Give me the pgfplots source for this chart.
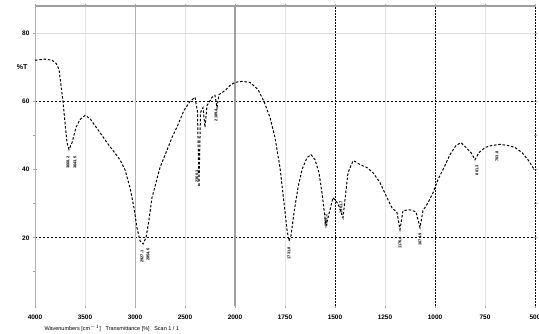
\documentclass[border=0pt]{standalone}
\usepackage{fontspec}
\setmainfont{Liberation Sans}
\usepackage{pgfplots}
\pgfplotsset{compat=1.18}
\begin{document}
\begin{tikzpicture}
\begin{axis}[
  scale only axis, width=500pt, height=300pt,
  xmin=0, xmax=500, ymin=0, ymax=88,
  axis line style={draw=none},
  xtick={0,50,100,150,200,250,300,350,400,450,500},
  xticklabels={4000,3500,3000,2500,2000,1750,1500,1250,1000,750,500},
  ytick={20,40,60,80},
  minor ytick={10,30,50},
  tick style={gray!70, line width=0.8pt},
  major tick length=4pt, minor tick length=3pt,
  tick align=center,
  ticklabel style={font=\fontsize{6.5}{7}\selectfont\bfseries},
  xticklabel style={yshift=-3pt},
  /pgf/number format/assume math mode=true,
  x filter/.expression={x>=2000 ? (4000-x)/10 : 200+(2000-x)/5},
  clip=false,
]
% grid
\foreach \u in {50,150,250,350,450}{\edef\tmp{\noexpand\draw[gray!20] (axis cs:\u,0) -- (axis cs:\u,88);}\tmp}
\draw[gray!25] (axis cs:0,80) -- (axis cs:500,80);
\draw[black, line width=0.9pt, dash pattern=on 2pt off 2pt] (axis cs:0,60) -- (axis cs:500,60);
\draw[black, line width=0.9pt, dash pattern=on 2pt off 2pt] (axis cs:0,20) -- (axis cs:500,20);
\draw[gray!60, line width=1pt] (axis cs:100,0) -- (axis cs:100,88);
\draw[gray!75, line width=1.2pt] (axis cs:200,0) -- (axis cs:200,88);
\foreach \u in {300,400,500}{\edef\tmp{\noexpand\draw[black, line width=0.9pt, dash pattern=on 1.5pt off 1.5pt] (axis cs:\u,0) -- (axis cs:\u,88);}\tmp}
\draw[gray!75, line width=1.8pt] (axis cs:0,88) -- (axis cs:500,88);
\draw[gray!60, line width=0.9pt] (axis cs:0,0) -- (axis cs:0,88);
\addplot[black, line width=1pt, dash pattern=on 2.5pt off 1.8pt] table {
4000 72.1
3900 72.4
3830 72.1
3790 71.2
3760 69.4
3740 64.7
3720 60.0
3700 53.8
3680 47.9
3660 45.9
3630 47.9
3590 52.4
3550 54.7
3500 55.9
3450 55.0
3400 52.9
3350 50.9
3280 47.9
3220 45.6
3150 42.9
3100 40.0
3050 34.7
3010 28.8
2980 22.9
2950 19.1
2920 18.2
2890 20.0
2860 25.3
2830 31.8
2790 36.2
2750 40.6
2690 45.0
2630 49.4
2570 53.2
2510 57.4
2450 60.0
2400 61.2
2375 57.0
2360 35.0
2345 56.8
2320 58.2
2300 52.4
2280 58.8
2230 61.2
2200 61.8
2180 58.2
2160 62.0
2100 63.2
2050 64.7
2000 65.6
1965 65.9
1925 65.6
1885 63.5
1855 60.0
1825 55.3
1800 49.4
1775 40.6
1755 30.3
1740 22.4
1730 19.1
1720 20.6
1705 27.4
1685 34.7
1665 40.0
1640 43.5
1620 44.4
1600 42.9
1580 39.1
1565 33.2
1545 23.5
1510 31.8
1485 30.0
1460 25.9
1435 39.1
1410 42.6
1400 42.4
1375 41.5
1340 40.6
1310 39.1
1275 36.2
1245 32.4
1215 28.8
1190 27.4
1175 22.4
1160 28.0
1125 28.2
1095 27.6
1075 23.0
1060 28.0
1035 30.3
1010 33.2
985 37.1
955 40.6
925 44.4
895 47.1
870 47.9
845 46.5
820 45.0
800 42.9
780 45.0
750 46.5
715 47.1
675 47.4
635 47.1
600 46.5
565 45.0
535 42.9
510 40.6
500 40.0
};
\tikzset{pk/.style={rotate=90, anchor=east, font=\fontsize{4}{4.5}\selectfont\bfseries, inner sep=0.5pt}}
\node[pk] at (axis cs:33,44) {3668.2};
\node[pk] at (axis cs:40,44) {3643.5};
\node[pk] at (axis cs:107,16.5) {2927.1};
\node[pk] at (axis cs:113,17) {2854.6};
\node[pk] at (axis cs:162,40) {2360.3};
\node[pk] at (axis cs:181,58) {2189.4};
\node[pk] at (axis cs:254,17.5) {1731.8};
\node[pk] at (axis cs:291,27) {1545.2};
\node[pk] at (axis cs:306,31) {1461.7};
\node[pk] at (axis cs:365,20.5) {1176.4};
\node[pk] at (axis cs:385,21.5) {1074.9};
\node[pk] at (axis cs:442,41.5) {801.3};
\node[pk] at (axis cs:462,45.5) {703.8};
\node[anchor=east, font=\fontsize{7}{8}\selectfont\bfseries] at (axis cs:-4,70) {\%T};
\node[anchor=west, font=\fontsize{5.5}{6}\selectfont] at ([xshift=6pt,yshift=-22pt]rel axis cs:0,0) {Wavenumbers [cm$^{-1}$]\ \ \ Transmittance [\%]\ \ \ Scan 1 / 1};
\end{axis}
\pgfresetboundingbox
\path (current axis.south west) ++(-35pt,-28pt);
\path (current axis.north east) ++(4pt,6pt);
\end{tikzpicture}
\end{document}
